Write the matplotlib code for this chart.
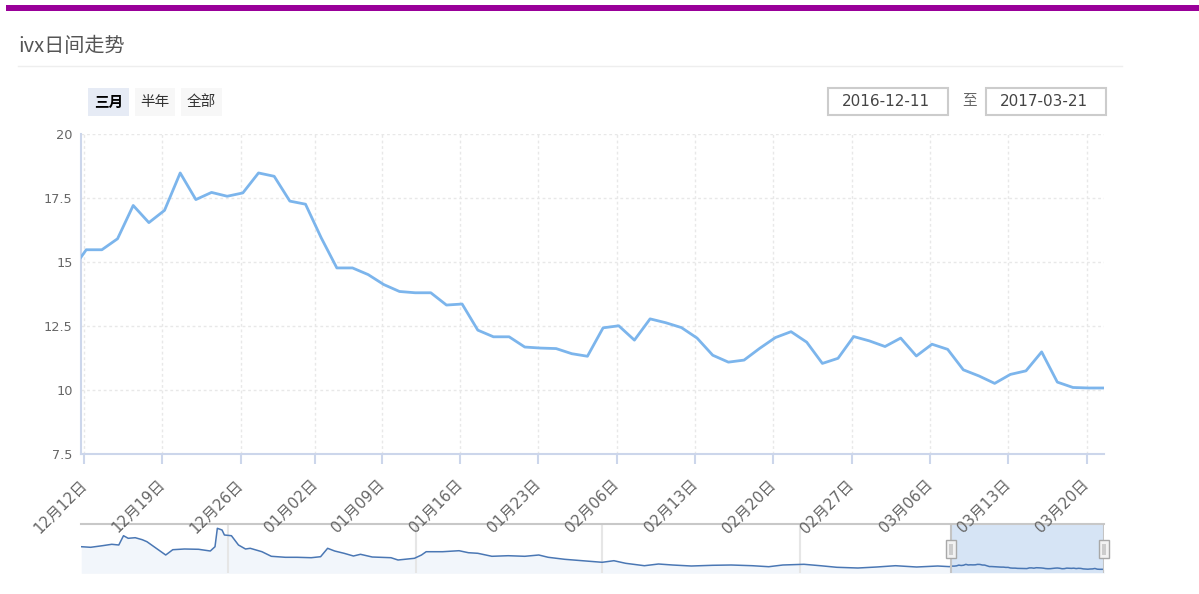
import numpy as np
import pandas as pd
import matplotlib
matplotlib.use('Agg')
import matplotlib.pyplot as plt
from matplotlib.patches import Rectangle
from matplotlib.lines import Line2D

plt.rcParams['font.family'] = ['DejaVu Sans', 'Noto Sans CJK SC']
CJK = ['Noto Sans CJK SC', 'DejaVu Sans']

# ---------------- data ----------------
title = 'ivx日间走势'
range_buttons = ['三月', '半年', '全部']
range_from = '2016-12-11'
range_to = '2017-03-21'
range_sep = '至'

dates = ['2016-12-09',
         '2016-12-12', '2016-12-13', '2016-12-14', '2016-12-15', '2016-12-16',
         '2016-12-19', '2016-12-20', '2016-12-21', '2016-12-22', '2016-12-23',
         '2016-12-26', '2016-12-27', '2016-12-28', '2016-12-29', '2016-12-30',
         '2017-01-03', '2017-01-04', '2017-01-05', '2017-01-06',
         '2017-01-09', '2017-01-10', '2017-01-11', '2017-01-12', '2017-01-13',
         '2017-01-16', '2017-01-17', '2017-01-18', '2017-01-19', '2017-01-20',
         '2017-01-23', '2017-01-24', '2017-01-25', '2017-01-26',
         '2017-02-03',
         '2017-02-06', '2017-02-07', '2017-02-08', '2017-02-09', '2017-02-10',
         '2017-02-13', '2017-02-14', '2017-02-15', '2017-02-16', '2017-02-17',
         '2017-02-20', '2017-02-21', '2017-02-22', '2017-02-23', '2017-02-24',
         '2017-02-27', '2017-02-28', '2017-03-01', '2017-03-02', '2017-03-03',
         '2017-03-06', '2017-03-07', '2017-03-08', '2017-03-09', '2017-03-10',
         '2017-03-13', '2017-03-14', '2017-03-15', '2017-03-16', '2017-03-17',
         '2017-03-20', '2017-03-21']

ivx = [14.62,
       15.49, 15.49, 15.92, 17.22, 16.55,
       17.03, 18.49, 17.45, 17.73, 17.58,
       17.71, 18.49, 18.36, 17.39, 17.27,
       15.96, 14.78, 14.78, 14.52,
       14.13, 13.86, 13.81, 13.81, 13.33,
       13.37, 12.35, 12.09, 12.09, 11.69,
       11.65, 11.63, 11.43, 11.33,
       12.44,
       12.52, 11.96, 12.79, 12.64, 12.45,
       12.04, 11.37, 11.10, 11.18, 11.64,
       12.06, 12.29, 11.88, 11.05, 11.25,
       12.10, 11.93, 11.71, 12.04, 11.34,
       11.80, 11.60, 10.80, 10.56, 10.27,
       10.62, 10.76, 11.50, 10.32, 10.11,
       10.09, 10.09]

tick_dates = ['2016-12-12', '2016-12-19', '2016-12-26', '2017-01-02', '2017-01-09',
              '2017-01-16', '2017-01-23', '2017-02-06', '2017-02-13', '2017-02-20',
              '2017-02-27', '2017-03-06', '2017-03-13', '2017-03-20']
tick_labels = ['12月12日', '12月19日', '12月26日', '01月02日', '01月09日',
               '01月16日', '01月23日', '02月06日', '02月13日', '02月20日',
               '02月27日', '03月06日', '03月13日', '03月20日']

y_ticks = [7.5, 10, 12.5, 15, 17.5, 20]
y_tick_labels = ['7.5', '10', '12.5', '15', '17.5', '20']

# navigator history (trading-day offset relative to 2016-12-12, value)
nav_hist_idx = [-371, -367, -362, -358, -355, -353, -351, -348, -345, -343,
                -339, -335, -332, -327, -321, -316, -314, -313, -311, -310,
                -307, -304, -301, -299, -294, -290, -284, -279, -273, -269,
                -266, -263, -259, -255, -252, -247, -239, -236, -229, -226,
                -224, -217, -210, -206, -202, -196, -189, -182, -176, -172,
                -165, -156, -149, -144, -139, -131, -125, -119, -111, -102,
                -94, -85, -78, -72, -63, -56, -49, -40, -32, -24, -15, -6]
nav_hist_vals = [48.5, 47.5, 50.2, 52.6, 51.4, 67.2, 62.8, 63.8, 60.4, 57.0,
                 45.8, 34.4, 43.4, 44.6, 44.1, 41.2, 48.5, 79.8, 76.9, 68.4,
                 67.2, 51.4, 44.6, 45.8, 40.0, 32.2, 30.5, 30.5, 29.8, 31.5,
                 45.8, 41.2, 37.3, 32.7, 35.6, 31.0, 29.8, 25.9, 28.8, 34.4,
                 40.0, 40.0, 41.7, 38.3, 37.3, 32.2, 33.2, 32.2, 34.4, 30.5,
                 27.1, 24.2, 22.0, 24.7, 20.3, 16.2, 19.1, 17.4, 15.7, 16.9,
                 17.4, 16.2, 14.5, 17.4, 18.6, 16.2, 13.5, 12.3, 14.0, 16.2,
                 14.0, 15.7]

# ---------------- layout helpers ----------------
W, H = 1199, 594
fig = plt.figure(figsize=(W / 100, H / 100), dpi=100)
fig.patch.set_facecolor('white')


def fx(x):
    return x / W


def fy(y):
    return 1 - y / H


def rect(x0, y0, x1, y1, **kw):
    r = Rectangle((fx(x0), fy(y1)), (x1 - x0) / W, (y1 - y0) / H,
                  transform=fig.transFigure, **kw)
    fig.add_artist(r)
    return r


def hline(x0, x1, y, **kw):
    fig.add_artist(Line2D([fx(x0), fx(x1)], [fy(y), fy(y)],
                          transform=fig.transFigure, **kw))


# ordinal (trading day) positions
td = pd.to_datetime(dates)
pos = np.arange(len(td)) - 1.0
t_num = td.asi8.astype(float)


def ordinal(d):
    return float(np.interp(pd.Timestamp(d).value, t_num, pos))


# ---------------- header ----------------
rect(6, 5, W, 10.7, facecolor='#990099', edgecolor='none')
fig.text(fx(18), fy(47), title, fontsize=14.5, color='#555555',
         va='center', ha='left', family=CJK)
hline(18, 1122, 66, color='#eeeeee', lw=1)

btn_x = [(88, 128.7), (135, 175), (181.3, 221.7)]
for i, (lbl, (x0, x1)) in enumerate(zip(range_buttons, btn_x)):
    sel = i == 0
    rect(x0, 88, x1, 115.7, facecolor='#e6ebf5' if sel else '#f7f7f7',
         edgecolor='none')
    fig.text(fx((x0 + x1) / 2), fy(102), lbl, fontsize=10.5,
             color='#000000' if sel else '#333333',
             fontweight='bold' if sel else 'normal',
             ha='center', va='center', family=CJK)

for (x0, x1), txt in zip([(828.3, 947.7), (986, 1105.7)], [range_from, range_to]):
    rect(x0, 88.3, x1, 115, facecolor='white', edgecolor='#cccccc', lw=1.5)
    fig.text(fx((x0 + x1) / 2 - 2), fy(101.5), txt, fontsize=11, color='#444444',
             ha='center', va='center')
fig.text(fx(970), fy(101.5), range_sep, fontsize=10.5, color='#666666',
         ha='center', va='center', family=CJK)

# ---------------- main chart ----------------
ax_left, ax_right = 81, 1104.3
ax = fig.add_axes([fx(ax_left), fy(454.3), (ax_right - ax_left) / W, (454.3 - 134.3) / H])
ax.set_zorder(5)
ax.set_xlim(ordinal(range_from), pos[-1])
ax.set_ylim(y_ticks[0], y_ticks[-1])
ax.plot(pos, ivx, color='#7cb5ec', lw=2.0, solid_joinstyle='round',
        solid_capstyle='round', zorder=3)

for s in ['top', 'right']:
    ax.spines[s].set_visible(False)
for s in ['left', 'bottom']:
    ax.spines[s].set_color('#ccd6eb')
    ax.spines[s].set_linewidth(1.5)

ax.set_yticks(y_ticks)
ax.set_yticklabels(y_tick_labels)
ax.tick_params(axis='y', length=0, pad=6, labelsize=9.3, labelcolor='#666666')

xt = [ordinal(d) - 0.13 for d in tick_dates]
ax.set_xticks(xt)
ax.set_xticklabels(tick_labels)
ax.tick_params(axis='x', length=7.2, width=1.5, color='#ccd6eb', pad=13,
               labelsize=10.8, labelcolor='#666666')
for lab in ax.get_xticklabels():
    lab.set_rotation(45)
    lab.set_ha('right')
    lab.set_va('center')
    lab.set_rotation_mode('anchor')
    lab.set_zorder(10)

ax.grid(True, color='#e8e8e8', linestyle=(0, (2, 2)), lw=1)
ax.set_axisbelow(True)

# ---------------- navigator ----------------
nav_top, nav_bot = 524, 573.3
nax = fig.add_axes([fx(ax_left), fy(nav_bot), (ax_right - ax_left) / W, (nav_bot - nav_top) / H])
nax.set_zorder(1)
nav_x = np.concatenate([np.array(nav_hist_idx, float), pos])
nav_v = np.concatenate([np.array(nav_hist_vals, float), np.array(ivx)])
sel0, sel1 = ordinal(range_from), pos[-1]
nav_left = sel0 - (951 - ax_left) * (sel1 - sel0) / (ax_right - 951)
nax.set_xlim(nav_left, sel1)
nax.set_ylim(3.3, 87.1)
nax.fill_between(nav_x, 3.3, nav_v, color='#f2f6fb', lw=0, zorder=1)
nax.axvspan(sel0, sel1, color='#d6e4f5', lw=0, zorder=2)
nax.plot(nav_x, nav_v, color='#4a77b4', lw=1.1, zorder=3)
nav_grid = [-308.5, -228.4, -149.1, -64.7, 14.5]
for g in nav_grid:
    nax.axvline(g, color='#e6e6e6', lw=1.5, zorder=1.5)
nax.set_xticks([])
nax.set_yticks([])
for s in ['left', 'right', 'bottom']:
    nax.spines[s].set_visible(False)
nax.spines['top'].set_color('#c8c8c8')
nax.spines['top'].set_linewidth(1.5)
for xv in (sel0, sel1):
    nax.axvline(xv, color='#c4c4c4', lw=1.5, zorder=4)

# handles
idx_per_px = (sel1 - nav_left) / (ax_right - ax_left)
for xv in (sel0, sel1):
    hx = ax_left + (xv - nav_left) / idx_per_px
    rect(hx - 5, 540, hx + 5, 558, facecolor='#f2f2f2', edgecolor='#a8a8a8', lw=1, zorder=6)
    rect(hx - 2, 543.5, hx + 2, 554.5, facecolor='#cccccc', edgecolor='none', zorder=7)

fig.savefig('out.png', dpi=100, facecolor='white')
